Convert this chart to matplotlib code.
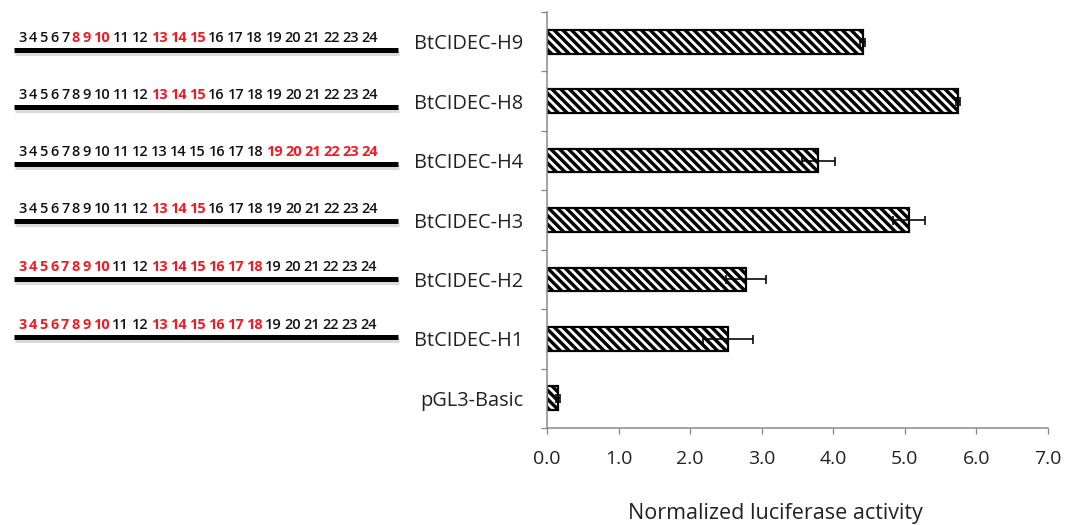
import matplotlib
matplotlib.use("Agg")
import matplotlib.pyplot as plt
import matplotlib.patheffects as pe
import numpy as np

# ---------------- data ----------------
categories = ["pGL3-Basic", "BtCIDEC-H1", "BtCIDEC-H2", "BtCIDEC-H3",
              "BtCIDEC-H4", "BtCIDEC-H8", "BtCIDEC-H9"]
activity = [0.15, 2.53, 2.78, 5.06, 3.79, 5.74, 4.41]
errors = [0.03, 0.35, 0.28, 0.22, 0.23, 0.03, 0.03]
xticks = [0.0, 1.0, 2.0, 3.0, 4.0, 5.0, 6.0, 7.0]
xlabel = "Normalized luciferase activity"

positions = list(range(3, 25))
# highlighted (red) positions for each construct row, top to bottom (H9, H8, H4, H3, H2, H1)
row_labels = ["BtCIDEC-H9", "BtCIDEC-H8", "BtCIDEC-H4", "BtCIDEC-H3", "BtCIDEC-H2", "BtCIDEC-H1"]
red_h9 = [8, 9, 10, 13, 14, 15]
red_h8 = [13, 14, 15]
red_h4 = [19, 20, 21, 22, 23, 24]
red_h3 = [13, 14, 15]
red_h2 = [3, 4, 5, 6, 7, 8, 9, 10, 13, 14, 15, 16, 17, 18]
red_h1 = [3, 4, 5, 6, 7, 8, 9, 10, 13, 14, 15, 16, 17, 18]
red_rows = [red_h9, red_h8, red_h4, red_h3, red_h2, red_h1]

# ---------------- layout ----------------
W, H = 1073, 525
DPI = 131
def pt(px):
    return px * 72.0 / DPI

plt.rcParams['font.family'] = ['Open Sans', 'DejaVu Sans']
plt.rcParams['hatch.linewidth'] = pt(3.4)

fig = plt.figure(figsize=(W / DPI, H / DPI), dpi=DPI)
ax = fig.add_axes([547 / W, 1 - 428 / H, (1048 - 547) / W, (428 - 12) / H])

ypos = np.arange(len(categories))
ax.barh(ypos, activity, height=0.4, color='white', edgecolor='black',
        linewidth=pt(2.2), hatch='\\' * 5, zorder=2)
ax.errorbar(activity, ypos, xerr=errors, fmt='none', ecolor='black',
            elinewidth=pt(1.6), capsize=pt(4.5), capthick=pt(1.6), zorder=3)

ax.set_xlim(0, 7)
ax.set_ylim(-0.5, len(categories) - 0.5)
ax.set_xticks(xticks)
ax.set_xticklabels([f"{v:.1f}" for v in xticks], fontsize=pt(19.5), color='#222222')
ax.set_yticks(ypos)
ax.set_yticklabels(categories, fontsize=pt(20), color='#222222')
ax.set_yticks(np.arange(-0.5, len(categories), 1.0), minor=True)
ax.tick_params(axis='y', which='major', length=0, pad=pt(24))
ax.tick_params(axis='y', which='minor', length=pt(6), width=pt(1.3), color='#888888', direction='out')
ax.tick_params(axis='x', which='major', length=pt(6), width=pt(1.3), color='#888888',
               direction='out', pad=pt(16))
for s in ['top', 'right']:
    ax.spines[s].set_visible(False)
for s in ['left', 'bottom']:
    ax.spines[s].set_color('#888888')
    ax.spines[s].set_linewidth(pt(1.5))
ax.set_xlabel(xlabel, fontsize=pt(21.5), color='#222222')
ax.xaxis.set_label_coords((775 - 547) / 501, -(513 - 428) / 416, transform=ax.transAxes)
ax.xaxis.label.set_va('center')

# ---------------- left-side sequence diagrams ----------------
bg = fig.add_axes([0, 0, 1, 1], zorder=-1)
bg.set_axis_off()
bg.set_xlim(0, W)
bg.set_ylim(H, 0)

line_y = [50, 107, 164, 221, 279, 337]
red_color = '#ee1c25'
for ly, reds in zip(line_y, red_rows):
    prev = None
    for n in positions:
        is_red = n in reds
        kw = dict(fontsize=pt(14.5), color=red_color if is_red else '#111111',
                  fontweight='bold' if is_red else 'semibold', va='bottom', ha='left',
                  family=['Open Sans', 'DejaVu Sans'])
        if prev is None:
            t = bg.text(18, ly - 5, str(n), **kw)
        else:
            t = bg.annotate(str(n), xy=(1, 0), xycoords=prev, xytext=(pt(2.5), 0),
                            textcoords='offset points', annotation_clip=False, **kw)
        prev = t
    bg.plot([14, 398], [ly, ly], color='black', lw=pt(5), solid_capstyle='butt',
            path_effects=[pe.SimpleLineShadow(offset=(0.5, -1.5), shadow_color='#888888', alpha=0.3),
                          pe.Normal()])

fig.savefig("out.png", dpi=DPI)
